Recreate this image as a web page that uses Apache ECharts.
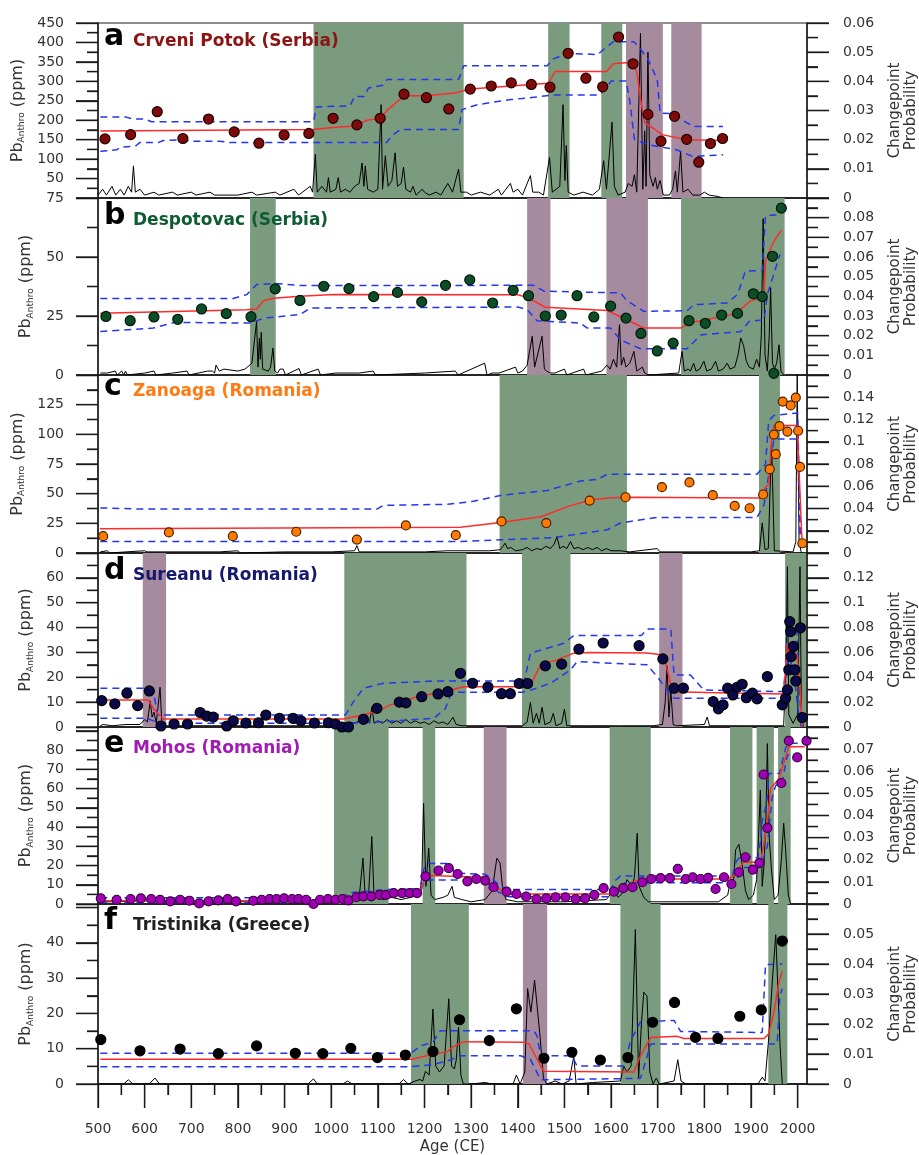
<!DOCTYPE html>
<html>
<head>
<meta charset="utf-8">
<script src="https://cdn.jsdelivr.net/npm/echarts@6.0.0/dist/echarts.min.js"></script>
<style>
html, body { margin: 0; padding: 0; background: #fff; }
#chart { width: 919px; height: 1155px; }
</style>
</head>
<body>
<div id="chart"></div>
<script>
// ---- data ----
const letters = ['a', 'b', 'c', 'd', 'e', 'f'];
const siteNames = ['Crveni Potok (Serbia)', 'Despotovac (Serbia)', 'Zanoaga (Romania)',
    'Sureanu (Romania)', 'Mohos (Romania)', 'Tristinika (Greece)'];
const xTicks = [500, 600, 700, 800, 900, 1000, 1100, 1200, 1300, 1400, 1500, 1600, 1700, 1800, 1900, 2000];
const xMinorTicks = [550, 650, 750, 850, 950, 1050, 1150, 1250, 1350, 1450, 1550, 1650, 1750, 1850, 1950];

// a - Crveni Potok
const ptsA = [[515,152],[570,163],[627,222],[682,153],[737,203],[792,170],[845,141],[899,162],[952,166],[1004,205],[1055,188],[1105,205],[1156,267],[1204,258],[1252,229],[1298,280],[1343,288],[1386,296],[1429,292],[1469,285],[1508,372],[1546,308],[1582,286],[1616,414],[1647,345],[1679,215],[1707,146],[1736,210],[1762,151],[1788,92],[1813,140],[1839,153]];
const redA = [[505,172],[960,176],[1004,181],[1055,186],[1076,200],[1105,205],[1122,228],[1156,263],[1204,263],[1265,270],[1298,280],[1465,295],[1480,325],[1590,325],[1605,345],[1645,349],[1655,325],[1665,240],[1672,193],[1690,180],[1709,163],[1763,150],[1840,148]];
const upA = [[505,208],[560,208],[575,203],[600,203],[615,196],[962,196],[968,234],[1040,237],[1050,261],[1070,261],[1080,283],[1110,290],[1120,305],[1273,305],[1284,340],[1463,340],[1475,357],[1506,372],[1571,369],[1582,380],[1605,402],[1649,402],[1665,380],[1680,355],[1699,304],[1705,218],[1736,217],[1760,195],[1777,184],[1840,184]];
const loA = [[505,120],[540,124],[548,131],[580,133],[590,143],[630,143],[640,148],[680,150],[700,146],[760,146],[780,143],[1119,143],[1130,160],[1148,176],[1273,176],[1280,227],[1313,240],[1385,253],[1434,259],[1477,265],[1575,265],[1590,283],[1600,301],[1632,301],[1640,250],[1650,150],[1680,137],[1740,124],[1775,107],[1840,111]];
const probA = [[500,0.001],[510,0.003],[518,0.001],[530,0.004],[538,0.001],[548,0.003],[556,0.001],[565,0.004],[572,0.002],[576,0.011],[580,0.002],[590,0.003],[600,0.001],[620,0.002],[630,0.001],[660,0.002],[670,0.001],[700,0.002],[710,0.001],[740,0.002],[750,0.001],[800,0.001],[830,0.002],[840,0.001],[880,0.002],[890,0.001],[920,0.003],[930,0.001],[955,0.004],[960,0.002],[966,0.015],[970,0.002],[980,0.004],[990,0.002],[994,0.007],[998,0.002],[1010,0.003],[1015,0.007],[1020,0.002],[1030,0.003],[1040,0.002],[1050,0.004],[1060,0.005],[1066,0.012],[1070,0.004],[1073,0.011],[1078,0.003],[1090,0.002],[1100,0.003],[1107,0.032],[1110,0.003],[1116,0.0145],[1122,0.004],[1130,0.006],[1137,0.0155],[1142,0.004],[1150,0.005],[1155,0.0106],[1160,0.003],[1170,0.002],[1175,0.004],[1182,0.001],[1195,0.003],[1200,0.002],[1210,0.001],[1225,0.002],[1235,0.001],[1250,0.005],[1260,0.002],[1273,0.0099],[1278,0.002],[1290,0.002],[1300,0.001],[1320,0.002],[1340,0.001],[1358,0.003],[1365,0.001],[1384,0.005],[1390,0.002],[1400,0.003],[1410,0.001],[1427,0.0077],[1432,0.002],[1445,0.002],[1455,0.001],[1468,0.0139],[1474,0.002],[1490,0.004],[1497,0.032],[1501,0.006],[1504,0.018],[1508,0.002],[1520,0.001],[1540,0.002],[1560,0.001],[1575,0.003],[1584,0.0128],[1590,0.003],[1602,0.026],[1607,0.004],[1615,0.001],[1630,0.002],[1637,0.005],[1645,0.004],[1650,0.008],[1655,0.002],[1663,0.0565],[1668,0.003],[1672,0.023],[1675,0.004],[1679,0.05],[1683,0.008],[1690,0.004],[1695,0.007],[1699,0.003],[1705,0.006],[1712,0.001],[1725,0.001],[1732,0.003],[1738,0.0093],[1742,0.002],[1749,0.016],[1754,0.002],[1765,0.003],[1775,0.001],[1790,0.001],[1800,0.002],[1810,0.001],[1830,0.0005],[1840,0]];
const greenA = [[962,1284],[1465,1511],[1579,1624]];
const purpleA = [[1632,1711],[1729,1794]];

// b - Despotovac
const ptsB = [[517,24.8],[569,23.0],[620,24.6],[671,23.6],[722,28.0],[775,26.0],[828,24.7],[880,36.5],[933,31.6],[984,37.6],[1038,36.6],[1091,33.2],[1142,35.0],[1194,31.0],[1245,38.0],[1297,40.3],[1346,30.5],[1390,35.9],[1423,33.6],[1459,25.0],[1493,25.4],[1527,33.6],[1563,24.6],[1599,29.2],[1632,24.1],[1664,17.6],[1699,10.2],[1733,13.5],[1767,23.0],[1802,21.9],[1837,25.4],[1871,26.1],[1905,34.4],[1924,33.2],[1946,50.3],[1949,0.7],[1965,70.7]];
const redB = [[505,26.2],[819,27.7],[840,28.0],[855,31.5],[876,32.5],[933,33.4],[1005,34.1],[1400,34],[1420,32.9],[1459,28.7],[1592,27.3],[1634,23.4],[1670,19.9],[1749,19.9],[1767,22.0],[1863,25.8],[1881,28.4],[1899,31.4],[1924,32.7],[1928,35.5],[1931,48.3],[1946,55.4],[1956,58.9],[1965,61.3]];
const upB = [[505,32.4],[790,32.4],[819,34.1],[840,38.3],[880,38.8],[933,37.9],[1434,38],[1456,35.5],[1620,34.8],[1634,31.5],[1670,27.0],[1763,27.2],[1777,29.8],[1849,30.5],[1871,34.1],[1888,44.0],[1924,44.3],[1931,67.4],[1965,68.1]];
const loB = [[505,18.4],[619,19.9],[665,22.3],[829,22.0],[855,24.1],[933,25.6],[955,28.4],[1400,28.8],[1420,27.7],[1441,23.0],[1534,22.0],[1549,19.9],[1599,19.9],[1620,14.9],[1663,11.1],[1763,11.1],[1792,17.0],[1878,18.4],[1896,22.7],[1928,23.4],[1935,34.1],[1962,51.1]];
const probB = [[505,0.001],[520,0.001],[537,0.002],[541,0],[551,0.002],[555,0],[559,0.002],[563,0],[600,0.001],[620,0.002],[624,0],[660,0.001],[691,0.002],[695,0],[735,0.002],[745,0.002],[750,0.001],[753,0.005],[760,0.002],[770,0.003],[800,0.002],[815,0.003],[830,0.006],[840,0.0273],[843,0.004],[846,0.0188],[848,0.008],[850,0.0217],[853,0.003],[865,0.002],[870,0.004],[875,0.0137],[879,0.002],[885,0.001],[890,0.003],[897,0.003],[902,0],[931,0.0033],[936,0],[972,0.003],[977,0],[1010,0.001],[1060,0.001],[1090,0.002],[1095,0],[1200,0.001],[1266,0.002],[1272,0],[1329,0.006],[1334,0],[1345,0.001],[1360,0.001],[1395,0.004],[1400,0.001],[1410,0.002],[1420,0.005],[1431,0.0197],[1436,0.004],[1440,0.003],[1452,0.0197],[1457,0.003],[1462,0.002],[1470,0.001],[1480,0.001],[1500,0.003],[1505,0],[1541,0.003],[1546,0],[1580,0.002],[1591,0.005],[1598,0.003],[1605,0.008],[1612,0.004],[1618,0.0256],[1622,0.005],[1627,0.009],[1632,0.004],[1640,0.006],[1649,0.012],[1655,0.002],[1667,0.004],[1672,0.001],[1680,0],[1745,0.001],[1752,0.012],[1757,0.002],[1765,0.003],[1770,0.002],[1777,0.006],[1782,0.002],[1790,0.003],[1799,0.007],[1805,0.002],[1815,0.003],[1824,0.007],[1830,0.002],[1840,0.003],[1849,0.006],[1855,0.003],[1865,0.004],[1872,0.01],[1878,0.0188],[1884,0.015],[1890,0.007],[1896,0.004],[1905,0.003],[1912,0.008],[1918,0.004],[1922,0.02],[1926,0.0795],[1930,0.01],[1935,0.002],[1939,0.02],[1942,0.0444],[1946,0.006],[1950,0.003],[1955,0.006],[1960,0.0154],[1964,0.002],[1970,0]];
const greenB = [[826,881],[1750,1972]];
const purpleB = [[1420,1470],[1590,1679]];

// c - Zanoaga
const ptsC = [[511,14.2],[652,17.3],[789,14.2],[925,17.9],[1055,11.3],[1160,23.2],[1267,15.0],[1365,26.6],[1461,25.2],[1554,44.2],[1631,47.0],[1709,55.5],[1768,59.5],[1818,48.7],[1865,39.7],[1897,37.7],[1926,49.3],[1940,70.6],[1949,99.8],[1953,83.3],[1961,106.9],[1968,127.6],[1978,102.3],[1985,124.4],[1996,131],[2001,103],[2005,72.5],[2010,8.2]];
const redC = [[504,20.4],[1277,21.7],[1363,25.8],[1449,30.6],[1513,39.9],[1556,44.7],[1592,46.4],[1634,47],[1920,46.4],[1931,55.4],[1938,58.2],[1944,94.7],[1949,107.4],[1999,107.4],[2009,12.5]];
const upC = [[505,38],[597,37],[1098,37],[1112,40.2],[1250,41],[1305,43.6],[1366,48.7],[1463,52.7],[1534,60.6],[1570,62],[1592,66.3],[1913,66.3],[1931,74.8],[1938,111.7],[1949,115.9],[2000,118],[2006,12]];
const loC = [[505,9.6],[1277,9.6],[1363,11.1],[1477,13],[1592,19.6],[1620,25.3],[1699,30],[1913,30],[1928,40.8],[1938,66.3],[1949,96.1],[2000,96],[2005,10]];
const probC = [[505,0.001],[520,0.002],[525,0],[560,0.001],[600,0.002],[605,0.001],[680,0.001],[760,0.001],[800,0.002],[805,0],[900,0.001],[1000,0.001],[1050,0.002],[1055,0.0066],[1060,0.001],[1100,0.001],[1150,0.001],[1200,0.001],[1250,0.002],[1300,0.002],[1340,0.002],[1363,0.003],[1368,0.006],[1373,0.0088],[1378,0.004],[1385,0.005],[1395,0.002],[1410,0.003],[1420,0.005],[1430,0.002],[1440,0.004],[1450,0.003],[1460,0.006],[1470,0.004],[1478,0.008],[1484,0.0148],[1490,0.004],[1497,0.006],[1505,0.004],[1513,0.0103],[1520,0.004],[1530,0.005],[1540,0.003],[1550,0.005],[1560,0.003],[1570,0.005],[1580,0.002],[1590,0.004],[1600,0.002],[1620,0.002],[1640,0.001],[1699,0.004],[1705,0.001],[1800,0.001],[1900,0.001],[1918,0.002],[1924,0.027],[1930,0.003],[1937,0.004],[1944,0.0997],[1950,0.002],[1990,0.001],[1996,0.01],[1999,0.16],[2003,0.01],[2008,0]];
const greenC = [[1361,1634],[1917,1962]];
const purpleC = [];

// d - Sureanu
const ptsD = [[508,10.6],[536,9.3],[562,13.6],[585,8.6],[610,14.5],[635,0.4],[663,1.2],[692,1.2],[719,5.8],[733,4.4],[747,4.0],[776,0.4],[790,2.5],[817,1.6],[844,1.7],[860,4.8],[889,3.5],[918,3.5],[935,2.5],[964,1.6],[994,1.7],[1009,1.2],[1023,0],[1037,0],[1069,3.1],[1098,7.5],[1146,10.0],[1160,9.7],[1194,12.2],[1229,13.3],[1250,14.2],[1277,21.6],[1303,17.6],[1336,16.1],[1365,13.4],[1384,13.4],[1403,17.5],[1421,17.5],[1459,24.6],[1494,25.3],[1531,31.3],[1583,33.8],[1660,32.7],[1711,27.4],[1735,15.6],[1755,15.6],[1819,10.2],[1830,7.3],[1840,8.9],[1850,15.6],[1861,12.9],[1870,16.0],[1881,17.2],[1890,11.8],[1903,13.6],[1913,11.3],[1935,20.3],[1967,8.9],[1974,11.6],[1978,14.9],[1981,23.0],[1983,42.4],[1985,38.4],[1986,28.3],[1991,32.4],[1994,23.0],[1996,18.5],[2006,39.9],[2010,3.8]];
const redD = [[505,10.9],[608,10.9],[619,7.3],[640,3.2],[1026,3.2],[1062,4.6],[1098,6.2],[1127,8.9],[1184,12.2],[1252,14.6],[1283,16.2],[1412,16.2],[1427,16.9],[1449,25],[1484,27],[1520,29.7],[1556,30],[1677,29.8],[1713,29],[1728,16.9],[1735,14.2],[1806,13.9],[1970,13.3],[1978,33.5],[1983,29],[1999,29],[2006,13.3],[2010,0]];
const upD = [[505,15.6],[604,15.6],[619,14.2],[628,4.8],[1030,4.8],[1048,10.2],[1069,15.6],[1112,17.6],[1220,18.5],[1414,18.5],[1427,29.7],[1463,31.7],[1499,33.7],[1520,36.8],[1665,36.8],[1677,39.4],[1728,39.4],[1735,20.9],[1770,20.9],[1799,14.9],[1970,14.2],[1978,38.4],[1998,38.4],[2008,0]];
const loD = [[505,3.5],[604,3.5],[633,1.5],[1026,1.5],[1100,2],[1220,3.5],[1245,7.5],[1255,12.5],[1270,14],[1410,14],[1430,15],[1470,17.6],[1513,23],[1527,26.3],[1677,25],[1700,20],[1728,12.9],[1735,11.6],[1970,11.6],[1980,28],[1991,23.7],[2000,8],[2008,0]];
const probD = [[505,0.001],[511,0.002],[530,0.001],[560,0.002],[590,0.002],[600,0.006],[606,0.004],[612,0.021],[616,0.008],[620,0.012],[625,0.003],[633,0.032],[637,0.002],[645,0.001],[700,0.001],[800,0.001],[900,0.001],[1000,0.001],[1030,0.002],[1040,0.004],[1050,0.003],[1060,0.005],[1068,0.003],[1076,0.006],[1082,0.003],[1087,0.0158],[1092,0.003],[1100,0.005],[1110,0.003],[1120,0.006],[1130,0.003],[1140,0.005],[1150,0.003],[1160,0.006],[1170,0.003],[1180,0.005],[1190,0.003],[1200,0.004],[1210,0.002],[1220,0.005],[1230,0.003],[1240,0.004],[1250,0.002],[1261,0.0078],[1268,0.002],[1280,0.001],[1350,0.001],[1410,0.001],[1420,0.004],[1427,0.0198],[1433,0.003],[1440,0.011],[1446,0.003],[1452,0.0158],[1458,0.002],[1470,0.004],[1476,0.011],[1482,0.001],[1494,0.003],[1500,0.0144],[1505,0.001],[1550,0.001],[1620,0.001],[1690,0.001],[1710,0.002],[1716,0.02],[1720,0.049],[1724,0.008],[1728,0.03],[1733,0.002],[1740,0.001],[1800,0.002],[1806,0.008],[1811,0.001],[1900,0.001],[1970,0.001],[1975,0.05],[1978,0.129],[1981,0.01],[1990,0.003],[2000,0.01],[2005,0.129],[2008,0.01],[2012,0]];
const greenD = [[1028,1290],[1409,1513],[1973,2020]];
const purpleD = [[596,646],[1703,1753]];

// e - Mohos
const ptsE = [[506,2.9],[540,2.2],[570,2.6],[592,2.9],[614,2.6],[633,2.1],[655,1.4],[676,2.2],[696,1.7],[717,0.3],[737,1.4],[758,1.9],[778,2.6],[796,1.4],[833,1.7],[851,2.2],[868,2.6],[883,2.6],[899,2.9],[916,2.6],[930,2.6],[946,2.2],[962,0],[976,2.2],[993,2.6],[1009,2.2],[1024,2.6],[1037,1.9],[1054,3.5],[1069,4.0],[1086,4.0],[1104,4.7],[1117,4.7],[1134,5.7],[1152,5.7],[1168,5.7],[1184,5.7],[1202,14.4],[1230,17.4],[1252,18.6],[1271,15.6],[1292,11.8],[1311,13.0],[1330,12.2],[1348,8.7],[1376,6.4],[1397,5.2],[1418,3.8],[1440,2.6],[1461,2.9],[1481,3.5],[1502,3.5],[1524,2.6],[1544,2.9],[1564,4.7],[1584,8.2],[1606,6.4],[1626,8.2],[1646,8.7],[1667,11.3],[1686,13.0],[1706,13.4],[1726,13.4],[1743,18.3],[1760,13.0],[1775,13.9],[1792,13.0],[1808,13.6],[1824,7.8],[1842,13.9],[1858,10.4],[1874,16.5],[1888,24.3],[1904,17.9],[1918,21.4],[1927,67.3],[1935,39.6],[1965,62.9],[1981,84.8],[1999,76.2],[2019,84.8]];
const redE = [[505,1.7],[962,1.7],[1035,2.2],[1062,4.0],[1098,5.2],[1120,6.3],[1190,6.7],[1202,13.9],[1213,14.8],[1327,13.9],[1348,9.5],[1377,5.2],[1599,5.2],[1620,8],[1663,13],[1849,13],[1863,14.8],[1884,21.7],[1920,21.7],[1927,30.4],[1935,42.6],[1942,60],[1960,65.2],[1981,81.7],[2015,81.7]];
const upE = [[505,3.3],[1000,3.3],[1030,4.5],[1045,6],[1120,7.5],[1190,8],[1198,18],[1205,21],[1255,21],[1265,16],[1330,15.5],[1345,13],[1360,10],[1375,7.5],[1600,7.5],[1608,12],[1620,14.5],[1860,14.5],[1868,22],[1878,25],[1915,24],[1920,32],[1924,42.6],[1935,55],[1938,67.8],[1961,67.8],[1974,80.9],[1981,83.5],[2016,83.5]];
const loE = [[505,0.8],[1000,0.8],[1030,1],[1060,2.5],[1100,4],[1190,5],[1198,11],[1210,12.5],[1325,12.5],[1340,10],[1360,6],[1380,3.8],[1600,3.8],[1615,7],[1630,11],[1860,11],[1870,13],[1884,19],[1920,19],[1935,30],[1945,55],[1953,61.7],[1965,61.7],[1978,77.4],[2013,77.4]];
const probE = [[505,0.001],[530,0.001],[600,0.0015],[700,0.001],[800,0.001],[900,0.001],[1000,0.001],[1030,0.002],[1050,0.004],[1060,0.003],[1068,0.0207],[1073,0.003],[1080,0.004],[1087,0.0305],[1092,0.002],[1100,0.004],[1110,0.002],[1130,0.003],[1150,0.002],[1170,0.003],[1188,0.004],[1194,0.01],[1198,0.0455],[1203,0.008],[1209,0.0252],[1214,0.004],[1222,0.002],[1240,0.003],[1250,0.004],[1259,0.008],[1264,0.003],[1280,0.002],[1300,0.001],[1330,0.002],[1345,0.006],[1355,0.0207],[1362,0.0185],[1368,0.006],[1375,0.002],[1400,0.001],[1500,0.001],[1590,0.002],[1605,0.0063],[1615,0.003],[1625,0.005],[1634,0.011],[1645,0.008],[1650,0.012],[1656,0.032],[1660,0.008],[1670,0.003],[1680,0.001],[1750,0.001],[1830,0.001],[1850,0.004],[1856,0.011],[1862,0.009],[1867,0.0245],[1874,0.027],[1881,0.018],[1888,0.006],[1895,0.002],[1905,0.004],[1912,0.011],[1916,0.03],[1920,0.0515],[1924,0.008],[1928,0.018],[1932,0.04],[1935,0.0725],[1939,0.03],[1944,0.015],[1950,0.002],[1958,0.004],[1965,0.02],[1970,0.0365],[1974,0.025],[1980,0.004],[1985,0]];
const greenE = [[1006,1123],[1196,1223],[1597,1685],[1855,1903],[1912,1949],[1958,1985]];
const purpleE = [[1327,1376]];

// f - Tristinika
const ptsF = [[506,12.6],[590,9.4],[676,9.9],[758,8.6],[840,10.8],[923,8.7],[982,8.6],[1042,10.1],[1099,7.5],[1159,8.2],[1218,9.2],[1275,18.2],[1339,12.3],[1397,21.3],[1456,7.3],[1516,9.0],[1577,6.8],[1636,7.5],[1689,17.5],[1736,23.1],[1781,13.2],[1829,12.9],[1876,19.2],[1922,21.0],[1967,40.5]];
const redF = [[505,7.0],[1173,7.0],[1218,8.4],[1248,9.1],[1262,10.6],[1284,12.0],[1413,11.8],[1424,11.4],[1449,5.1],[1456,3.6],[1649,3.4],[1663,8.0],[1685,13.2],[1742,13.5],[1756,12.9],[1928,12.9],[1938,14.2],[1949,20.4],[1960,29],[1967,31.9]];
const upF = [[505,8.7],[1171,8.7],[1191,10.8],[1218,11.8],[1234,15.1],[1434,15.1],[1441,13.7],[1449,8.0],[1516,8.0],[1527,5.1],[1627,5.1],[1642,12.3],[1663,17.6],[1735,18.0],[1749,14.9],[1924,14.6],[1931,33.8],[1967,34]];
const loF = [[505,4.9],[1171,4.9],[1218,5.5],[1248,6.5],[1277,8],[1406,8],[1427,7.0],[1449,1.2],[1663,1.6],[1685,11.3],[1956,11.3],[1962,25.2],[1967,27]];
const probF = [[505,0],[555,0],[565,0.0014],[575,0],[610,0],[622,0.002],[632,0],[950,0],[962,0.0017],[970,0],[1025,0],[1035,0.001],[1045,0],[1145,0],[1155,0.0015],[1165,0],[1180,0.001],[1190,0.0015],[1196,0.001],[1202,0.0042],[1210,0.003],[1218,0.025],[1224,0.006],[1232,0.004],[1242,0.006],[1252,0.0284],[1258,0.006],[1264,0.005],[1268,0.008],[1273,0.019],[1278,0.003],[1283,0],[1300,0],[1330,0.0005],[1345,0],[1390,0],[1397,0.003],[1405,0],[1415,0.004],[1421,0.0318],[1428,0.024],[1436,0.0346],[1447,0.017],[1455,0.002],[1462,0],[1480,0.001],[1495,0],[1510,0.001],[1520,0.0092],[1525,0],[1560,0.0005],[1620,0.001],[1627,0.006],[1634,0.004],[1643,0.006],[1652,0.0515],[1659,0.002],[1665,0.02],[1670,0.0306],[1677,0.0293],[1683,0.004],[1690,0],[1697,0.002],[1703,0],[1735,0.001],[1743,0.0081],[1750,0.001],[1760,0],[1915,0],[1924,0.0023],[1930,0.001],[1938,0.0154],[1946,0.035],[1953,0.0498],[1958,0.03],[1962,0.0135],[1967,0]];
const greenF = [[1171,1295],[1620,1706],[1937,1978]];
const purpleF = [[1411,1463]];

// ---- layout / styling ----
const panels = [
    {pts: ptsA, red: redA, up: upA, lo: loA, prob: probA, green: greenA, purple: purpleA},
    {pts: ptsB, red: redB, up: upB, lo: loB, prob: probB, green: greenB, purple: purpleB},
    {pts: ptsC, red: redC, up: upC, lo: loC, prob: probC, green: greenC, purple: purpleC},
    {pts: ptsD, red: redD, up: upD, lo: loD, prob: probD, green: greenD, purple: purpleD},
    {pts: ptsE, red: redE, up: upE, lo: loE, prob: probE, green: greenE, purple: purpleE},
    {pts: ptsF, red: redF, up: upF, lo: loF, prob: probF, green: greenF, purple: purpleF}
];
const layout = [
    {top: 23,  h: 175, yMax: 450, yInt: 50, yLab: [50, 450], pMax: 0.06, pInt: 0.01, pLab: 0.06, base: 50},
    {top: 198, h: 177, yMax: 75,  yInt: 25, yLab: [0, 75],   pMax: 0.09, pInt: 0.01, pLab: 0.08, base: 229},
    {top: 375, h: 178, yMax: 150, yInt: 25, yLab: [0, 125],  pMax: 0.16, pInt: 0.02, pLab: 0.14, base: 400},
    {top: 553, h: 174, yMax: 70,  yInt: 10, yLab: [0, 60],   pMax: 0.14, pInt: 0.02, pLab: 0.12, base: 584},
    {top: 727, h: 177, yMax: 92,  yInt: 10, yLab: [0, 80],   pMax: 0.08, pInt: 0.01, pLab: 0.07, base: 757},
    {top: 904, h: 180, yMax: 51,  yInt: 10, yLab: [0, 40],   pMax: 0.06, pInt: 0.01, pLab: 0.05, base: 934}
];
const titleColors = ['#8c1414', '#0e5c33', '#ff7a12', '#16186e', '#a11cb3', '#222222'];
const dotColors = ['#7e0a0a', '#0c4d27', '#ff7a00', '#0a0a4a', '#a000b4', '#000000'];
const dotBorders = ['#200000', '#001a08', '#4a2000', '#000000', '#3a003f', '#000000'];
const GREEN = '#7b9b7e', PURPLE = '#a68b9f';
const FONT = 'DejaVu Sans';
const AX = '#1a1a1a', TXT = '#333333';
const MAJOR = 22, MINOR = 11;

const chart = echarts.init(document.getElementById('chart'));

function bandSeries(i, data, color) {
    return {
        type: 'custom', xAxisIndex: i, yAxisIndex: 2 * i, z: 1, silent: true,
        data: data, encode: {x: [0, 1]},
        renderItem: function (params, api) {
            const cs = params.coordSys;
            let x0 = api.coord([api.value(0), 0])[0];
            let x1 = api.coord([api.value(1), 0])[0];
            x0 = Math.max(x0, cs.x + 1); x1 = Math.min(x1, cs.x + cs.width - 1);
            return {type: 'rect', shape: {x: x0, y: cs.y, width: x1 - x0, height: cs.height},
                style: {fill: color}};
        }
    };
}

// axis ticks drawn through the axis scales (value, length) -> short line outside the grid
function tickSeries(xIdx, yIdx, side, data) {
    return {
        type: 'custom', xAxisIndex: xIdx, yAxisIndex: yIdx, z: 7, silent: true, clip: false,
        data: data, encode: side === 'bottom' ? {x: 0} : {y: 0},
        renderItem: function (params, api) {
            const cs = params.coordSys;
            const v = api.value(0), len = api.value(1);
            let shape;
            if (side === 'bottom') {
                const x = api.coord([v, 0])[0];
                shape = {x1: x, y1: cs.y + cs.height, x2: x, y2: cs.y + cs.height + len};
            } else {
                const y = api.coord([500, v])[1];
                const x0 = side === 'left' ? cs.x : cs.x + cs.width;
                shape = {x1: x0, y1: y, x2: side === 'left' ? x0 - len : x0 + len, y2: y};
            }
            return {type: 'line', shape: shape, style: {stroke: AX, lineWidth: 1.3}};
        }
    };
}
function tickValues(max, step) {
    const out = [];
    for (let k = 0; k * step / 2 <= max + 1e-9; k++) {
        out.push([+(k * step / 2).toFixed(4), k % 2 === 0 ? MAJOR : MINOR]);
    }
    return out;
}

function axisLine() { return {show: true, lineStyle: {color: AX, width: 1.5}}; }
function majorTick() { return {show: true, length: MAJOR, lineStyle: {color: AX, width: 1.3}}; }
function minorTick() { return {show: true, splitNumber: 2, length: MINOR, lineStyle: {color: AX, width: 1.3}}; }

const grids = [], xAxes = [], yAxes = [], series = [], graphics = [];
panels.forEach(function (p, i) {
    const L = layout[i];
    const last = i === panels.length - 1;
    grids.push({left: 98, right: 112, top: L.top, height: L.h, show: true,
        outerBoundsMode: 'none', borderColor: AX});
    xAxes.push({
        type: 'value', gridIndex: i, min: 500, max: 2020,
        axisLine: axisLine(),
        axisTick: last ? {show: true, customValues: xTicks, length: 24, lineStyle: {color: AX, width: 1.3}} : {show: false},
        axisLabel: last ? {show: true, customValues: xTicks, margin: 38, fontSize: 14, color: TXT, fontFamily: FONT,
            formatter: function (v) { return String(v); }} : {show: false},
        splitLine: {show: false},
        name: last ? 'Age (CE)' : '', nameLocation: 'middle', nameGap: 56,
        nameTextStyle: {fontSize: 15, color: TXT, fontFamily: FONT}
    });
    yAxes.push({
        type: 'value', gridIndex: i, min: 0, max: L.yMax, interval: L.yInt,
        axisLine: axisLine(), axisTick: majorTick(), minorTick: minorTick(),
        splitLine: {show: false},
        axisLabel: {margin: 34, fontSize: 14, color: TXT, fontFamily: FONT,
            formatter: function (v) { return (v < L.yLab[0] || v > L.yLab[1]) ? '' : String(v); }},
        name: '{m|Pb}{s|Anthro}{m| (ppm)}', nameLocation: 'middle', nameGap: 60, nameRotate: 90,
        nameTextStyle: {color: TXT, fontFamily: FONT,
            rich: {m: {fontSize: 16, color: TXT, fontFamily: FONT},
                   s: {fontSize: 9, color: TXT, fontFamily: FONT, padding: [9, 0, 0, 0]}}}
    });
    yAxes.push({
        type: 'value', gridIndex: i, position: 'right', min: 0, max: L.pMax, interval: L.pInt,
        axisLine: axisLine(), axisTick: majorTick(), minorTick: minorTick(),
        splitLine: {show: false},
        axisLabel: {margin: 36, fontSize: 14, color: TXT, fontFamily: FONT,
            formatter: function (v) { return v > L.pLab + 1e-9 ? '' : String(+v.toFixed(3)); }},
        name: 'Changepoint\nProbability', nameLocation: 'middle', nameGap: 80, nameRotate: 90,
        nameTextStyle: {fontSize: 15, lineHeight: 16, color: TXT, fontFamily: FONT}
    });

    series.push(bandSeries(i, p.green, GREEN));
    series.push(bandSeries(i, p.purple, PURPLE));
    series.push({type: 'line', xAxisIndex: i, yAxisIndex: 2 * i + 1, data: p.prob, symbol: 'none',
        lineStyle: {color: '#000', width: 1}, z: 3, silent: true});
    [p.up, p.lo].forEach(function (d) {
        series.push({type: 'line', xAxisIndex: i, yAxisIndex: 2 * i, data: d, symbol: 'none',
            lineStyle: {color: '#2436f0', width: 1.5, type: [7, 5]}, z: 4, silent: true});
    });
    series.push({type: 'line', xAxisIndex: i, yAxisIndex: 2 * i, data: p.red, symbol: 'none',
        lineStyle: {color: '#ff2b2b', width: 1.5}, z: 5, silent: true});
    series.push({type: 'scatter', xAxisIndex: i, yAxisIndex: 2 * i, data: p.pts, symbolSize: i === 2 || i === 4 ? 9 : 10,
        itemStyle: {color: dotColors[i], borderColor: dotBorders[i], borderWidth: 1.2, opacity: 1}, z: 6, silent: true});

    series.push(tickSeries(i, 2 * i, 'left', tickValues(L.yMax, L.yInt)));
    series.push(tickSeries(i, 2 * i + 1, 'right', tickValues(L.pMax, L.pInt)));
    if (last) {
        series.push(tickSeries(i, 2 * i, 'bottom',
            xTicks.map(function (v) { return [v, 24]; }).concat(xMinorTicks.map(function (v) { return [v, MINOR]; }))));
    }

    graphics.push({type: 'text', left: 104, top: L.base - 28, z: 20,
        style: {text: letters[i], font: 'bold 30px "' + FONT + '"', fill: '#000'}});
    graphics.push({type: 'text', left: 133, top: L.base - 17, z: 20,
        style: {text: siteNames[i], font: 'bold 17px "' + FONT + '"', fill: titleColors[i]}});
});

// minor ticks on the age axis of the bottom panel
xAxes.push({
    type: 'value', gridIndex: panels.length - 1, min: 500, max: 2020, position: 'bottom',
    axisLine: axisLine(), axisLabel: {show: false}, splitLine: {show: false},
    axisTick: {show: true, customValues: xMinorTicks, length: MINOR, lineStyle: {color: AX, width: 1.3}}
});

chart.setOption({
    animation: false,
    grid: grids, xAxis: xAxes, yAxis: yAxes, series: series, graphic: graphics
});
</script>
</body>
</html>
